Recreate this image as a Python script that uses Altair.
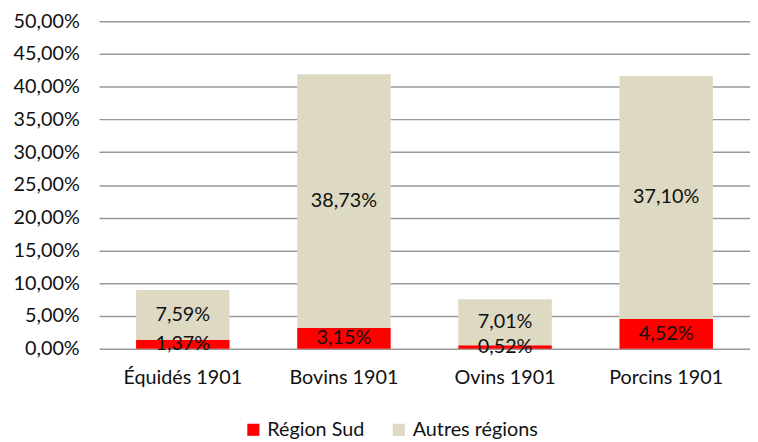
import altair as alt
import pandas as pd

categories = ["Équidés 1901", "Bovins 1901", "Ovins 1901", "Porcins 1901"]
sud = [1.37, 3.15, 0.52, 4.52]
autres = [7.59, 38.73, 7.01, 37.10]
series = ["Région Sud", "Autres régions"]
colors = ["#FF0000", "#DDD9C3"]
y_ticks = [0, 5, 10, 15, 20, 25, 30, 35, 40, 45, 50]

rows = []
for c, s, a in zip(categories, sud, autres):
    rows.append({"cat": c, "serie": series[0], "val": s, "ord": 0})
    rows.append({"cat": c, "serie": series[1], "val": a, "ord": 1})
df = pd.DataFrame(rows)

FONT = "Lato"
FS = 20

yaxis = alt.Axis(values=y_ticks, ticks=False, domain=False,
                 labelOverlap=False,
                 labelExpr="replace(format(datum.value, '.2f'), '.', ',') + '%'",
                 labelFontSize=FS, labelFont=FONT, labelColor="#111", labelPadding=20,
                 gridColor="#999999", gridWidth=1.5)
yscale = alt.Scale(domain=[0, 50], nice=False)

base = alt.Chart(df).encode(
    x=alt.X("cat:N", sort=categories, title=None,
            scale=alt.Scale(paddingInner=0.42, paddingOuter=0.23),
            axis=alt.Axis(labelAngle=0, ticks=False, domain=False, labelPadding=19,
                          labelFontSize=FS, labelFont=FONT, labelColor="#111")),
)

bars = base.mark_bar().encode(
    y=alt.Y("val:Q", stack="zero", title=None, scale=yscale, axis=yaxis),
    color=alt.Color("serie:N", sort=series,
                    scale=alt.Scale(domain=series, range=colors),
                    legend=alt.Legend(title=None, orient="none", direction="horizontal",
                                      legendX=146, legendY=403, symbolType="square",
                                      symbolSize=150, symbolStrokeWidth=0, labelFontSize=FS,
                                      labelFont=FONT, labelColor="#111", columnPadding=24,
                                      symbolOpacity=1)),
    order=alt.Order("ord:Q"),
)

text = base.transform_stack(
    stack="val", groupby=["cat"], as_=["v0", "v1"], sort=[alt.SortField("ord")]
).transform_calculate(
    mid="(datum.v0 + datum.v1) / 2",
    lab="replace(format(datum.val, '.2f'), '.', ',') + '%'",
).mark_text(fontSize=FS, font=FONT, color="#111", baseline="middle").encode(
    y=alt.Y("mid:Q", title=None, scale=yscale, axis=yaxis),
    text="lab:N",
)

chart = (bars + text).properties(
    width=658, height=331,
    autosize=alt.AutoSizeParams(type="none"),
    padding={"left": 92, "top": 11, "right": 0, "bottom": 90},
).configure_view(stroke=None)

chart.save("out.html", embed_options={"renderer": "svg", "actions": False})
